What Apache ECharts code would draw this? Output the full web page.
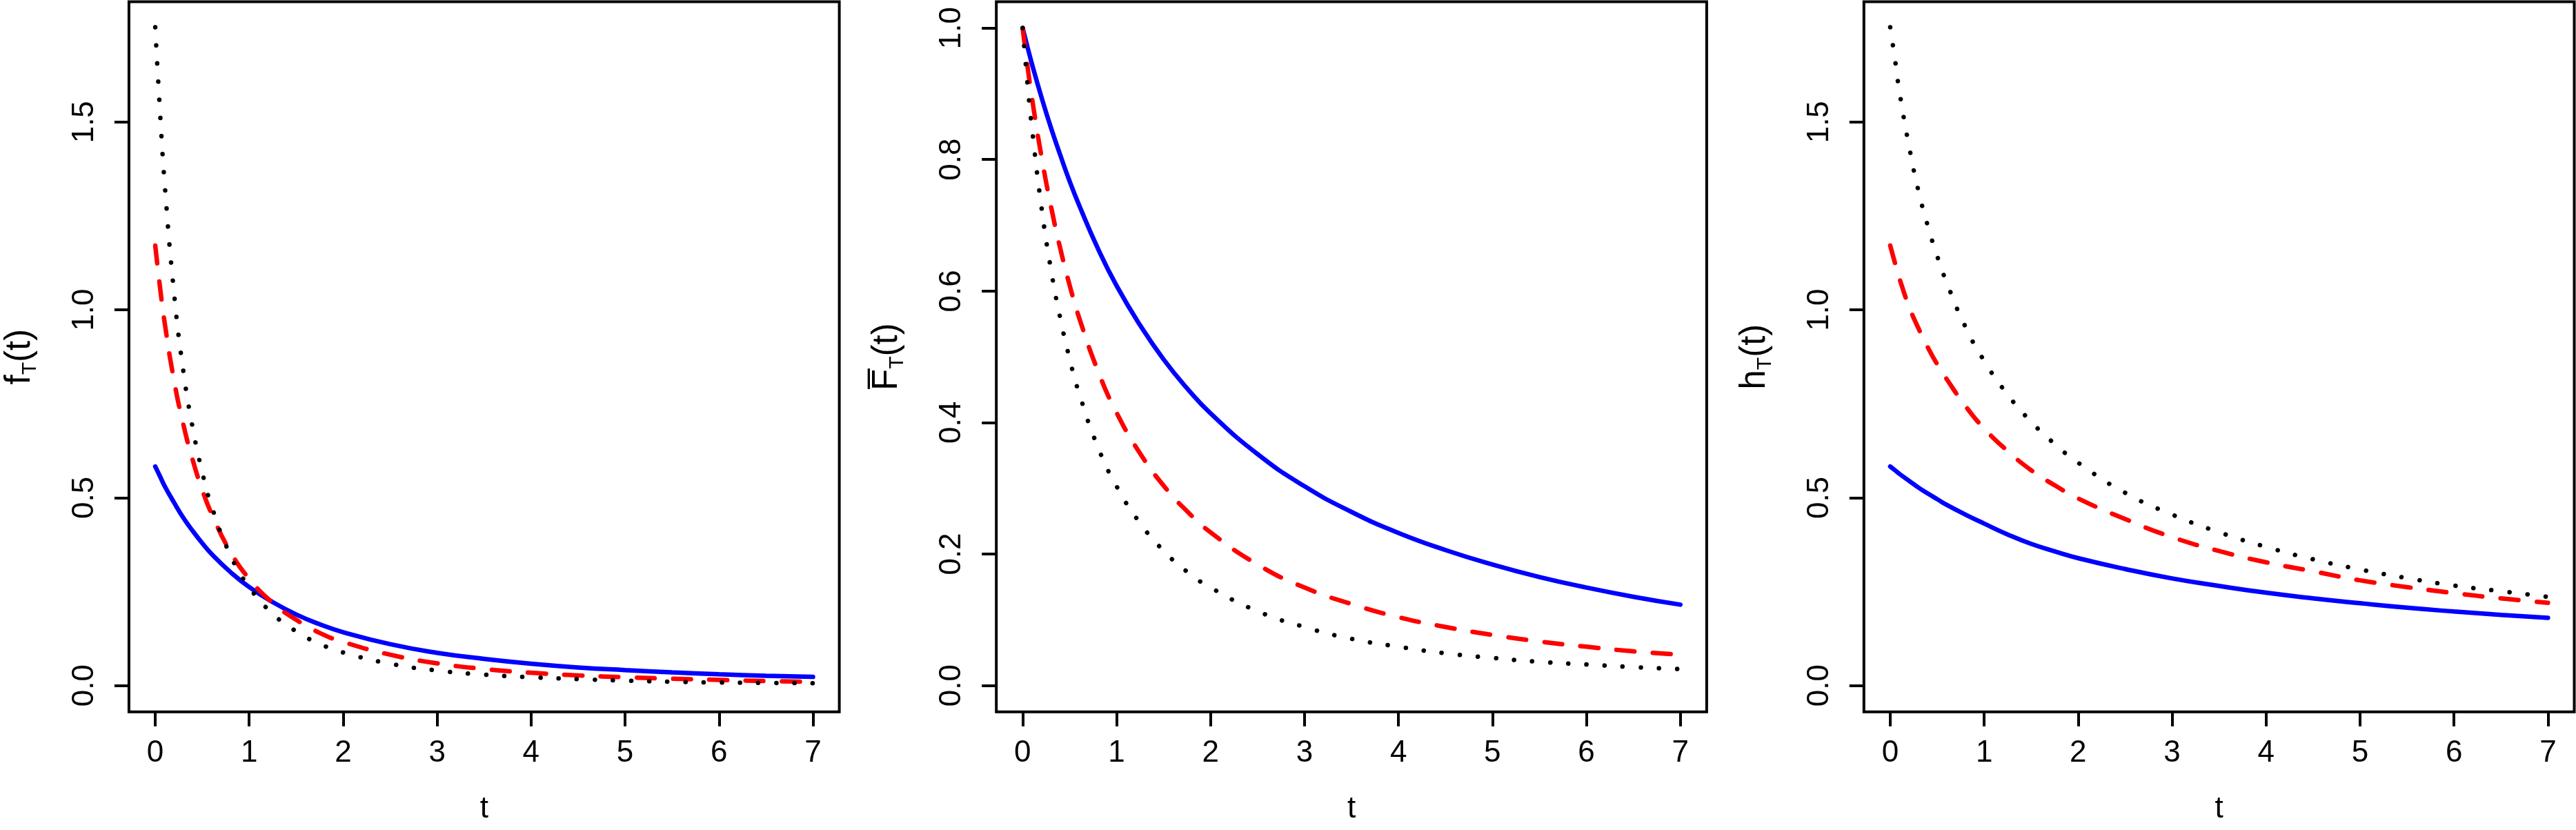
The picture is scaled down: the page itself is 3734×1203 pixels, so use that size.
<!DOCTYPE html>
<html>
<head>
<meta charset="utf-8">
<title>density, survival and hazard</title>
<script src="https://cdn.jsdelivr.net/npm/echarts@6/dist/echarts.min.js"></script>
<style>
  html, body { margin: 0; padding: 0; background: #ffffff; }
  #chart { width: 3734px; height: 1203px; }
</style>
</head>
<body>
<div id="chart"></div>
<script>
// values at these t
var tValues = [0, 0.05, 0.1, 0.2, 0.3, 0.4, 0.5, 0.6, 0.8, 1, 1.25, 1.5, 1.75, 2, 2.5, 3, 3.5, 4, 4.5, 5, 5.5, 6, 6.5, 7];

var densityBlue  = [0.583, 0.557, 0.531, 0.487, 0.446, 0.411, 0.379, 0.350, 0.302, 0.262, 0.222, 0.189, 0.163, 0.142, 0.110, 0.087, 0.071, 0.058, 0.048, 0.041, 0.035, 0.030, 0.026, 0.023];
var densityRed   = [1.171, 1.062, 0.966, 0.812, 0.694, 0.599, 0.521, 0.457, 0.356, 0.284, 0.220, 0.175, 0.140, 0.116, 0.082, 0.059, 0.044, 0.034, 0.027, 0.022, 0.018, 0.015, 0.012, 0.010];
var densityBlack = [1.752, 1.530, 1.337, 1.045, 0.835, 0.684, 0.568, 0.477, 0.347, 0.262, 0.191, 0.144, 0.111, 0.088, 0.058, 0.040, 0.029, 0.022, 0.017, 0.013, 0.010, 0.008, 0.007, 0.006];

var survivalBlue  = [1.000, 0.972, 0.945, 0.895, 0.849, 0.807, 0.767, 0.731, 0.665, 0.608, 0.548, 0.496, 0.452, 0.414, 0.352, 0.303, 0.264, 0.232, 0.206, 0.184, 0.165, 0.149, 0.135, 0.123];
var survivalRed   = [1.000, 0.944, 0.893, 0.805, 0.730, 0.665, 0.609, 0.560, 0.479, 0.415, 0.353, 0.304, 0.265, 0.233, 0.184, 0.149, 0.124, 0.104, 0.089, 0.077, 0.067, 0.059, 0.052, 0.047];
var survivalBlack = [1.000, 0.918, 0.847, 0.728, 0.634, 0.559, 0.497, 0.445, 0.363, 0.303, 0.247, 0.205, 0.173, 0.149, 0.113, 0.089, 0.071, 0.059, 0.049, 0.042, 0.036, 0.032, 0.028, 0.025];

var hazardBlue  = [0.583, 0.573, 0.563, 0.545, 0.527, 0.511, 0.496, 0.481, 0.455, 0.431, 0.402, 0.377, 0.357, 0.339, 0.310, 0.285, 0.265, 0.247, 0.232, 0.219, 0.207, 0.197, 0.188, 0.180];
var hazardRed   = [1.171, 1.125, 1.082, 1.009, 0.951, 0.900, 0.855, 0.816, 0.744, 0.684, 0.624, 0.573, 0.533, 0.498, 0.443, 0.395, 0.358, 0.328, 0.304, 0.280, 0.262, 0.246, 0.232, 0.220];
var hazardBlack = [1.752, 1.667, 1.578, 1.436, 1.317, 1.223, 1.143, 1.073, 0.955, 0.864, 0.774, 0.702, 0.643, 0.593, 0.513, 0.455, 0.408, 0.369, 0.336, 0.309, 0.286, 0.266, 0.251, 0.236];

var xTicks = [0, 1, 2, 3, 4, 5, 6, 7];
var densityTicks = [0, 0.5, 1, 1.5];
var survivalTicks = [0, 0.2, 0.4, 0.6, 0.8, 1];
var hazardTicks = [0, 0.5, 1, 1.5];

var FONT = '"Liberation Sans", Arial, Helvetica, sans-serif';
var panelLeft = [186.9, 1444.2, 2701.8];
var panelWidth = 1029.7;

function pairs(ys) {
	return tValues.map(function(t, i) {
		return [t, ys[i]];
	});
}

var grids = [], xAxes = [], yAxes = [], series = [];

function addPanel(i, yTicks, yMin, yMax, yName, blue, red, black) {
	grids.push({
		left: panelLeft[i],
		top: 2.5,
		width: panelWidth,
		height: 1029.2,
		show: true,
		borderColor: '#000',
		borderWidth: 4,
		backgroundColor: 'transparent'
	});
	xAxes.push({
		gridIndex: i,
		type: 'value',
		min: -0.28,
		max: 7.28,
		name: 't',
		nameLocation: 'middle',
		nameGap: 119,
		nameTextStyle: { fontFamily: FONT, fontSize: 44, color: '#000', lineHeight: 44 },
		axisLine: { show: false, onZero: false },
		splitLine: { show: false },
		axisTick: { customValues: xTicks, length: 21, lineStyle: { color: '#000', width: 4 } },
		axisLabel: {
			customValues: xTicks,
			margin: 38,
			fontFamily: FONT,
			fontSize: 44,
			lineHeight: 44,
			color: '#000'
		}
	});
	yAxes.push({
		gridIndex: i,
		type: 'value',
		min: yMin,
		max: yMax,
		name: yName,
		nameLocation: 'middle',
		nameRotate: 90,
		nameGap: 128,
		nameTextStyle: {
			fontFamily: FONT,
			color: '#000',
			rich: {
				m: { fontFamily: FONT, fontSize: 51, lineHeight: 60, color: '#000', verticalAlign: 'middle' },
				s: { fontFamily: FONT, fontSize: 30, lineHeight: 30, color: '#000', verticalAlign: 'bottom' }
			}
		},
		axisLine: { show: false, onZero: false },
		splitLine: { show: false },
		axisTick: { customValues: yTicks, length: 21, lineStyle: { color: '#000', width: 4 } },
		axisLabel: {
			customValues: yTicks,
			rotate: 90,
			margin: 42,
			fontFamily: FONT,
			fontSize: 44,
			lineHeight: 44,
			color: '#000',
			formatter: function(v) {
				return v.toFixed(1);
			}
		}
	});
	series.push({
		type: 'line', xAxisIndex: i, yAxisIndex: i,
		data: pairs(blue), showSymbol: false, symbol: 'none', smooth: true,
		lineStyle: { color: '#0000ff', width: 6.5, type: 'solid', cap: 'round' }
	});
	series.push({
		type: 'line', xAxisIndex: i, yAxisIndex: i,
		data: pairs(red), showSymbol: false, symbol: 'none', smooth: true,
		lineStyle: { color: '#ff0000', width: 6.5, type: [26, 26.6], cap: 'round' }
	});
	series.push({
		type: 'line', xAxisIndex: i, yAxisIndex: i,
		data: pairs(black), showSymbol: false, symbol: 'none', smooth: true,
		lineStyle: { color: '#000000', width: 6.5, type: [0.1, 26.2], cap: 'round' }
	});
}

addPanel(0, densityTicks, -0.07, 1.82, '{m|f}{s|T}{m|(t)}', densityBlue, densityRed, densityBlack);
addPanel(1, survivalTicks, -0.04, 1.04, '{m|F\u0305}{s|T}{m|(t)}', survivalBlue, survivalRed, survivalBlack);
addPanel(2, hazardTicks, -0.07, 1.82, '{m|h}{s|T}{m|(t)}', hazardBlue, hazardRed, hazardBlack);

var chart = echarts.init(document.getElementById('chart'), null, { renderer: 'canvas' });
chart.setOption({
	animation: false,
	backgroundColor: '#ffffff',
	grid: grids,
	xAxis: xAxes,
	yAxis: yAxes,
	series: series
});
</script>
</body>
</html>
